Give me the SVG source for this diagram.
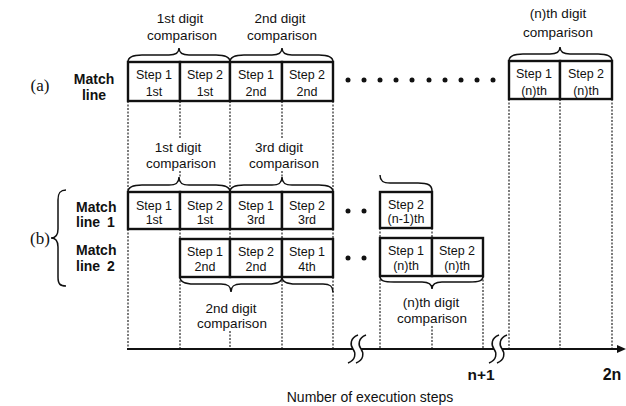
<svg xmlns="http://www.w3.org/2000/svg" width="626" height="406" viewBox="0 0 626 406">
<defs>
<style>
text{font-family:"Liberation Sans",Arial,sans-serif;fill:#111}
.st{font-size:12.5px;text-anchor:middle}
.cap{font-size:13.5px;text-anchor:middle}
.lbl{font-size:14px;font-weight:bold}
.ser{font-family:"Liberation Serif","Times New Roman",serif;font-size:17px;text-anchor:middle}
.box{fill:#fff;stroke:#111;stroke-width:2.4}
.dot{stroke:#111;stroke-width:1.1;stroke-dasharray:2 1.5;fill:none}
.br{fill:none;stroke:#111;stroke-width:1.5}
.ax{stroke:#111;stroke-width:2;fill:none}
</style>
</defs>
<rect width="626" height="406" fill="#fff"/>

<g id="connectors">
<path class="dot" d="M128 101V192M128 229V349
M180 101V139M180 171V178M180 229V239M180 277V349
M230 101V192M230 229V239M230 331V349
M282 101V139M282 171V178M282 229V239M282 277V349
M333 101V192M333 229V239M333 277V349
M509 99V349M560 99V349M612 99V349
M380 228V238M380 276V349M432 228V238M432 326V349M483 276V349"/>
<path class="br" d="M128 62C128 57 132 55 142 55L169 55C176 55 179 53 179 48C179 53 182 55 189 55L216 55C226 55 230 57 230 62"/>
<path class="br" d="M230 62C230 57 234 55 244 55L272 55C279 55 282 53 282 48C282 53 285 55 292 55L319 55C329 55 333 57 333 62"/>
<path class="br" d="M509 61C509 56 513 54 523 54L550 54C557 54 560 52 560 47C560 52 563 54 570 54L598 54C608 54 612 56 612 61"/>
<path class="br" d="M128 192C128 187 132 185 142 185L169 185C176 185 179 183 179 177C179 183 182 185 189 185L216 185C226 185 230 187 230 192"/>
<path class="br" d="M230 192C230 187 234 185 244 185L272 185C279 185 282 183 282 177C282 183 285 185 292 185L319 185C329 185 333 187 333 192"/>
<path class="br" d="M380 175C380 181 383 183 390 183L418 183C428 183 432 185 432 191"/>
<path class="br" d="M180 277C180 282 184 284 194 284L221 284C228 284 231 286 231 292C231 286 234 284 241 284L268 284C278 284 282 282 282 277"/>
<path class="br" d="M282 277C282 282 286 284 296 284L323 284C330 284 333 286 333 292"/>
<path class="br" d="M380 276C380 281 384 282 394 282L422 282C429 282 432 284 432 289C432 284 435 282 442 282L469 282C479 282 483 281 483 276"/>
<path class="br" d="M66 190C60 190 58 193 58 200L58 229C58 235 56 238 51 238C56 238 58 241 58 247L58 277C58 284 60 286 66 286"/>
<path class="ax" d="M127 349H353M361 349H494M502 349H618"/>
<path class="br" d="M358 335C350 338 350 345 353 349C356 353 356 360 348 363M366 335C358 338 358 345 361 349C364 353 364 360 356 363"/>
<path class="br" d="M499 335C491 338 491 345 494 349C497 353 497 360 489 363M507 335C499 338 499 345 502 349C505 353 505 360 497 363"/>
<polygon points="626,349 617,345 617,353" fill="#111"/>
<g fill="#111">
<circle cx="348" cy="80" r="2.5"/><circle cx="364" cy="80" r="2.5"/><circle cx="380" cy="80" r="2.5"/><circle cx="396" cy="80" r="2.5"/><circle cx="412" cy="80" r="2.5"/><circle cx="429" cy="80" r="2.5"/><circle cx="445" cy="80" r="2.5"/><circle cx="461" cy="80" r="2.5"/><circle cx="477" cy="80" r="2.5"/><circle cx="493" cy="80" r="2.5"/>
<circle cx="348" cy="211" r="2.5"/><circle cx="364" cy="211" r="2.5"/>
<circle cx="348" cy="258" r="2.5"/><circle cx="364" cy="258" r="2.5"/>
</g>
</g>

<g id="captions">
<text class="cap" x="180" y="23">1st digit</text><text class="cap" x="182" y="40">comparison</text>
<text class="cap" x="280" y="23">2nd digit</text><text class="cap" x="282" y="40">comparison</text>
<text class="cap" x="558" y="18">(n)th digit</text><text class="cap" x="558" y="37">comparison</text>
<text class="cap" x="178" y="152">1st digit</text><text class="cap" x="181" y="168">comparison</text>
<text class="cap" x="279" y="152">3rd digit</text><text class="cap" x="284" y="168">comparison</text>
<text class="cap" x="231" y="313">2nd digit</text><text class="cap" x="232" y="328">comparison</text>
<text class="cap" x="431" y="307">(n)th digit</text><text class="cap" x="432" y="323">comparison</text>
<text class="ser" x="40" y="91">(a)</text>
<text class="ser" x="40" y="244">(b)</text>
<text class="lbl" x="94" y="84" text-anchor="middle">Match</text><text class="lbl" x="94" y="100" text-anchor="middle">line</text>
<text class="lbl" x="76" y="212">Match</text><text class="lbl" x="76" y="227" word-spacing="3">line 1</text>
<text class="lbl" x="76" y="255">Match</text><text class="lbl" x="76" y="271" word-spacing="3">line 2</text>
<text class="lbl" x="481" y="380" text-anchor="middle" style="font-size:15.5px">n+1</text>
<text class="lbl" x="612" y="380" text-anchor="middle" style="font-size:16px">2n</text>
<text x="370" y="402" text-anchor="middle" style="font-size:14px">Number of execution steps</text>
</g>

<g id="a1"><rect class="box" x="128" y="62" width="52" height="39"/><text class="st" x="154" y="79">Step 1</text><text class="st" x="154" y="96">1st</text></g>
<g id="a2"><rect class="box" x="180" y="62" width="50" height="39"/><text class="st" x="205" y="79">Step 2</text><text class="st" x="205" y="96">1st</text></g>
<g id="a3"><rect class="box" x="230" y="62" width="52" height="39"/><text class="st" x="256" y="79">Step 1</text><text class="st" x="256" y="96">2nd</text></g>
<g id="a4"><rect class="box" x="282" y="62" width="51" height="39"/><text class="st" x="307" y="79">Step 2</text><text class="st" x="307" y="96">2nd</text></g>
<g id="a5"><rect class="box" x="509" y="61" width="51" height="38"/><text class="st" x="534" y="78">Step 1</text><text class="st" x="534" y="95">(n)th</text></g>
<g id="a6"><rect class="box" x="560" y="61" width="52" height="38"/><text class="st" x="586" y="78">Step 2</text><text class="st" x="586" y="95">(n)th</text></g>

<g id="b1"><rect class="box" x="128" y="192" width="52" height="37"/><text class="st" x="154" y="210">Step 1</text><text class="st" x="154" y="224">1st</text></g>
<g id="b2"><rect class="box" x="180" y="192" width="50" height="37"/><text class="st" x="205" y="210">Step 2</text><text class="st" x="205" y="224">1st</text></g>
<g id="b3"><rect class="box" x="230" y="192" width="52" height="37"/><text class="st" x="256" y="210">Step 1</text><text class="st" x="256" y="224">3rd</text></g>
<g id="b4"><rect class="box" x="282" y="192" width="51" height="37"/><text class="st" x="307" y="210">Step 2</text><text class="st" x="307" y="224">3rd</text></g>
<g id="b5"><rect class="box" x="380" y="192" width="52" height="36"/><text class="st" x="406" y="209">Step 2</text><text class="st" x="406" y="223">(n-1)th</text></g>

<g id="c1"><rect class="box" x="180" y="239" width="50" height="38"/><text class="st" x="205" y="256">Step 1</text><text class="st" x="205" y="271">2nd</text></g>
<g id="c2"><rect class="box" x="230" y="239" width="52" height="38"/><text class="st" x="256" y="256">Step 2</text><text class="st" x="256" y="271">2nd</text></g>
<g id="c3"><rect class="box" x="282" y="239" width="51" height="38"/><text class="st" x="307" y="256">Step 1</text><text class="st" x="307" y="271">4th</text></g>
<g id="c4"><rect class="box" x="380" y="238" width="52" height="38"/><text class="st" x="406" y="255">Step 1</text><text class="st" x="406" y="270">(n)th</text></g>
<g id="c5"><rect class="box" x="432" y="238" width="51" height="38"/><text class="st" x="457" y="255">Step 2</text><text class="st" x="457" y="270">(n)th</text></g>
</svg>
